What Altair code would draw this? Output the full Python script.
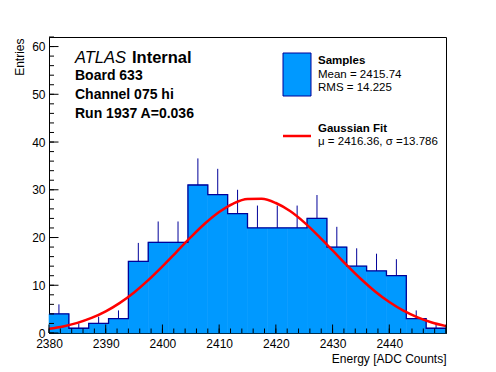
import altair as alt
import pandas as pd

# ---------------- data ----------------
edges = [2380.0, 2383.5, 2387.0, 2390.5, 2394.0, 2397.5, 2401.0, 2404.5, 2408.0,
         2411.5, 2415.0, 2418.5, 2422.0, 2425.5, 2429.0, 2432.5, 2436.0, 2439.5,
         2443.0, 2446.5, 2450.0]
counts = [4, 1, 2, 3, 15, 19, 19, 31, 29, 25, 22, 22, 22, 24, 18, 14, 13, 12, 3, 1]
errors = [2.0, 1.0, 1.41, 1.73, 3.87, 4.36, 4.36, 5.57, 5.39, 5.0, 4.69, 4.69,
          4.69, 4.9, 4.24, 3.74, 3.61, 3.46, 1.73, 1.0]

fit_x = [2380, 2382.5, 2385, 2387.5, 2390, 2392.5, 2395, 2397.5, 2400, 2402.5,
         2405, 2407.5, 2410, 2412.5, 2415, 2417.5, 2420, 2422.5, 2425, 2427.5,
         2430, 2432.5, 2435, 2437.5, 2440, 2442.5, 2445, 2447.5, 2450]
fit_y = [0.87, 1.38, 2.12, 3.15, 4.53, 6.31, 8.49, 11.06, 13.95, 17.01, 20.08,
         22.94, 25.35, 27.12, 28.06, 28.10, 27.23, 25.54, 23.17, 20.34, 17.29,
         14.21, 11.31, 8.70, 6.48, 4.67, 3.26, 2.20, 1.44]

x_labels = [2380, 2390, 2400, 2410, 2420, 2430, 2440]
x_major = [2380, 2390, 2400, 2410, 2420, 2430, 2440, 2450]
x_minor = list(range(2380, 2451, 2))
y_major = [0, 10, 20, 30, 40, 50, 60]
y_minor = list(range(0, 63, 2))

# ---------------- styling ----------------
W, H = 397, 296
FONT = "Liberation Sans"
FILL = "#0099ff"
EDGE = "#000099"

bins = pd.DataFrame({"lo": edges[:-1], "hi": edges[1:], "n": counts, "err": errors})
bins["c"] = (bins["lo"] + bins["hi"]) / 2
bins["top"] = bins["n"] + bins["err"]
bins["z"] = 0
step = pd.DataFrame({"x": edges, "y": counts + [counts[-1]]})
fit = pd.DataFrame({"x": fit_x, "y": fit_y})

xs = alt.Scale(domain=[2380, 2450], nice=False, zero=False)
ys = alt.Scale(domain=[0, 62], nice=False)

x_axis = alt.Axis(values=x_labels, ticks=False, grid=False, labelPadding=5,
                  labelFontSize=12, labelFont=FONT, labelColor="black",
                  labelFlush=False, labelOverlap=False, format="d",
                  domainColor="black", domainWidth=1,
                  title="Energy [ADC Counts]", titleFont=FONT, titleFontSize=12,
                  titleFontWeight="normal", titleColor="black",
                  titleAlign="right", titleBaseline="alphabetic",
                  titleX=W, titleY=29)
y_axis = alt.Axis(values=y_major, ticks=False, grid=False, labelPadding=4,
                  labelFontSize=12, labelFont=FONT, labelColor="black",
                  labelFlush=False, labelOverlap=False, format="d",
                  domainColor="black", domainWidth=1,
                  title="Entries", titleFont=FONT, titleFontSize=12,
                  titleFontWeight="normal", titleColor="black",
                  titleAngle=270, titleAlign="right", titleBaseline="alphabetic",
                  titleX=-26, titleY=1)

def X(field):
    return alt.X(field, scale=xs, axis=x_axis)

def Y(field):
    return alt.Y(field, scale=ys, axis=y_axis)

bars = alt.Chart(bins).mark_rect(color=FILL, stroke=FILL, strokeWidth=0.6).encode(
    x=X("lo:Q"), x2="hi:Q", y=Y("n:Q"), y2="z:Q")

errbars = alt.Chart(bins).mark_rule(color=EDGE, strokeWidth=1).encode(
    x=X("c:Q"), y=Y("n:Q"), y2="top:Q")

outline = alt.Chart(step).mark_line(interpolate="step-after", color=EDGE,
                                    strokeWidth=1.3).encode(x=X("x:Q"), y=Y("y:Q"))

fitline = alt.Chart(fit).mark_line(interpolate="monotone", color="#ff0000",
                                   strokeWidth=2.5).encode(x=X("x:Q"), y=Y("y:Q"))

def xticks(vals, length):
    return alt.Chart(pd.DataFrame({"v": vals})).mark_rule(color="black", strokeWidth=1).encode(
        x=X("v:Q"), y=alt.value(H), y2=alt.value(H - length))

def yticks(vals, length):
    return alt.Chart(pd.DataFrame({"v": vals})).mark_rule(color="black", strokeWidth=1).encode(
        y=Y("v:Q"), x=alt.value(0), x2=alt.value(length))

one = pd.DataFrame({"k": [0]})

def label(text, x, y, size=12, weight="normal", style="normal", color="black"):
    return alt.Chart(one).mark_text(text=text, font=FONT, fontSize=size,
                                    fontWeight=weight, fontStyle=style, color=color,
                                    align="left", baseline="middle").encode(
        x=alt.value(x), y=alt.value(y))

legend_box = alt.Chart(one).mark_rect(fill=FILL, stroke=EDGE, strokeWidth=1).encode(
    x=alt.value(234), x2=alt.value(262), y=alt.value(16), y2=alt.value(59))
legend_line = alt.Chart(one).mark_rule(color="#ff0000", strokeWidth=2.5).encode(
    x=alt.value(234), x2=alt.value(262), y=alt.value(99))

chart = alt.layer(
    bars, errbars, outline, fitline,
    xticks(x_minor, 4.5), xticks(x_major, 8.5),
    yticks(y_minor, 5), yticks(y_major, 9.5),
    label("ATLAS", 26, 21, size=16.5, style="italic"),
    label("Internal", 83, 21, size=16.5, weight="bold"),
    label("Board 633", 26, 39, size=14, weight="bold"),
    label("Channel 075 hi", 26, 58, size=14, weight="bold"),
    label("Run 1937 A=0.036", 26, 77, size=14, weight="bold"),
    legend_box,
    label("Samples", 269, 24, size=11.5, weight="bold"),
    label("Mean = 2415.74", 269, 38, size=11.5),
    label("RMS = 14.225", 269, 51, size=11.5),
    legend_line,
    label("Gaussian Fit", 269, 92, size=11.5, weight="bold"),
    label("\u03bc = 2416.36, \u03c3 =13.786", 269, 105, size=11.5),
).properties(
    width=W, height=H,
    padding={"left": 41, "top": 29, "right": 40, "bottom": 34},
    autosize=alt.AutoSizeParams(type="none"),
    background="white",
).configure_view(stroke="black", strokeWidth=1)

chart.save("out.html", embed_options={"renderer": "svg", "actions": False})
